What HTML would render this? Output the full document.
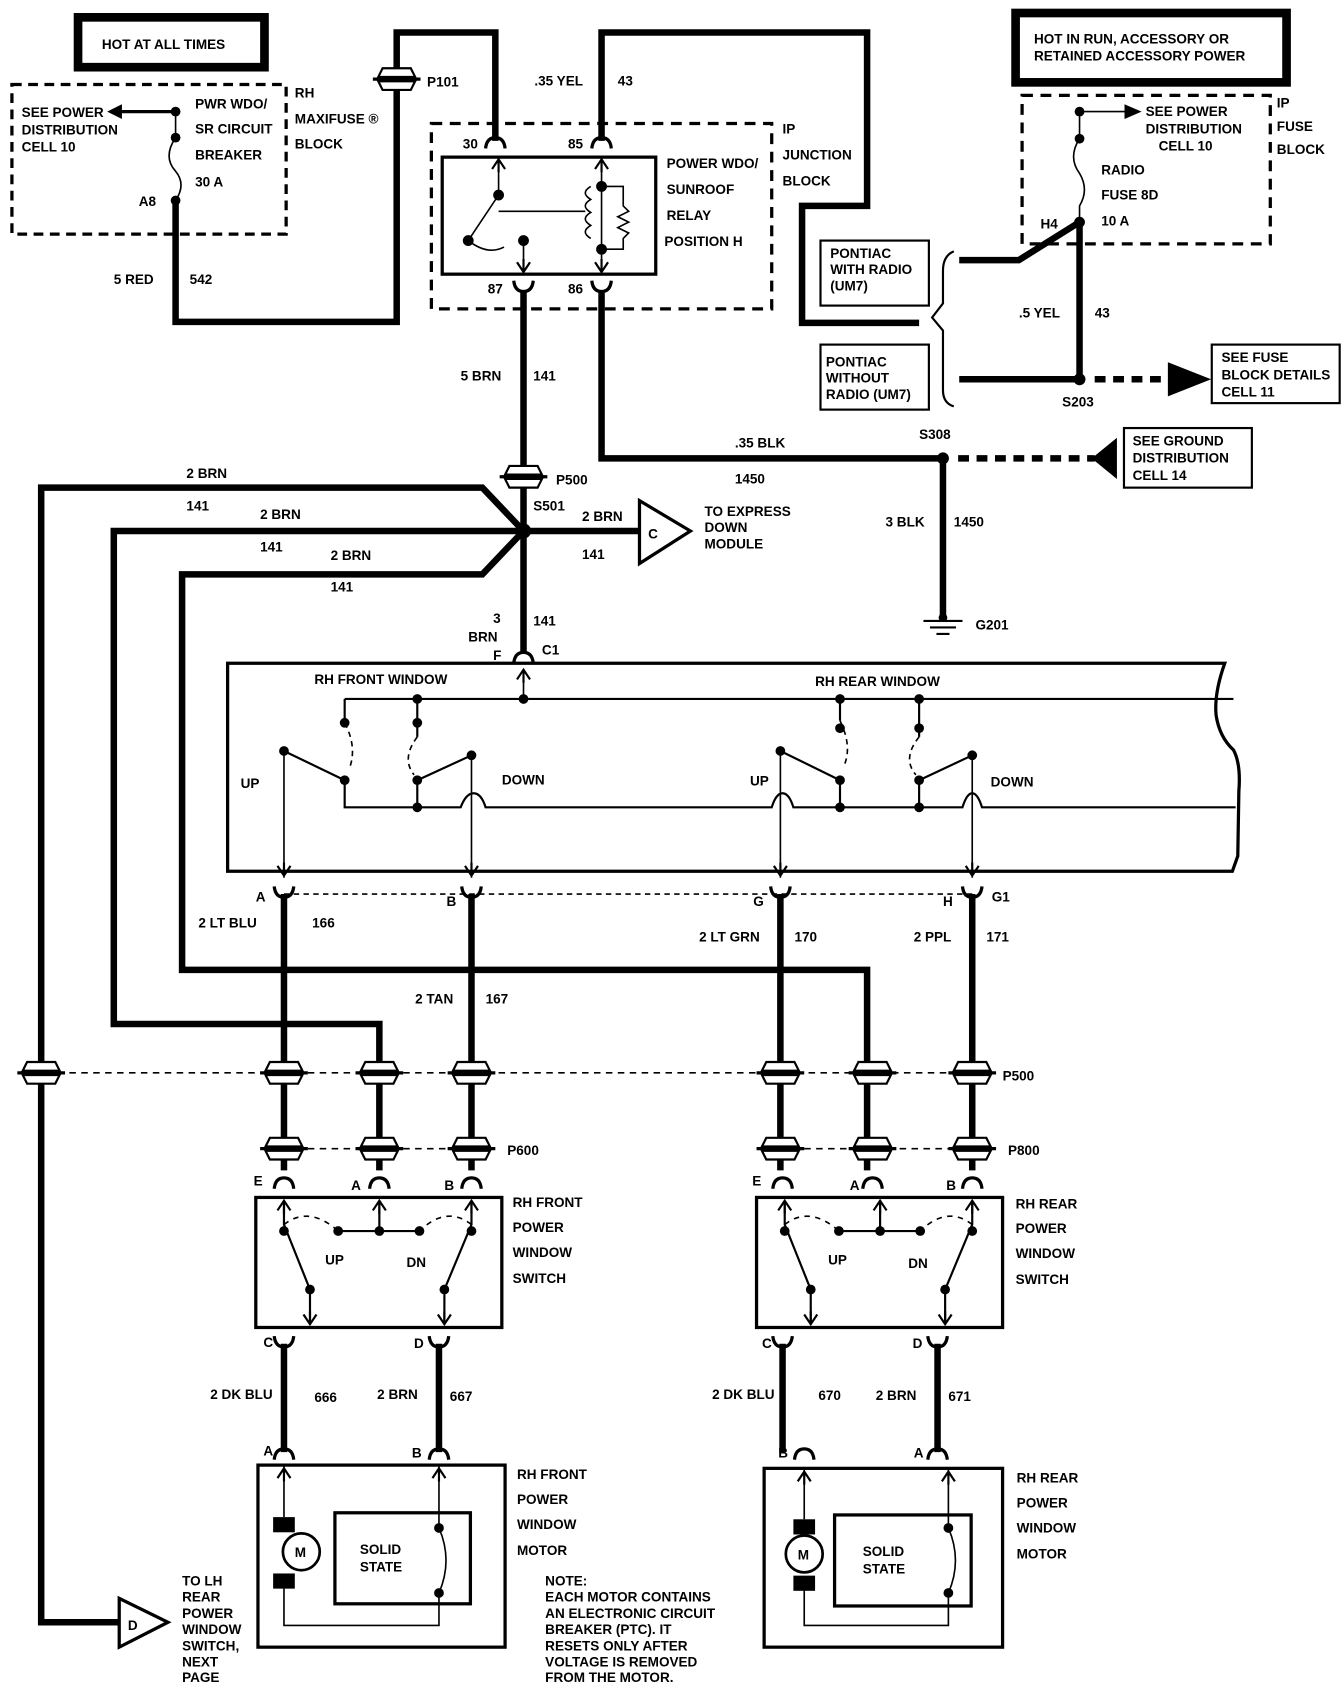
<!DOCTYPE html>
<html><head><meta charset="utf-8"><style>
html,body{margin:0;padding:0;background:#fff}
svg{display:block}
text{font-family:"Liberation Sans Narrow","Liberation Sans",sans-serif;font-weight:bold;font-size:12.5px;fill:#000}
</style></head><body>
<svg width="1344" height="1684" viewBox="0 0 1240 1554" preserveAspectRatio="none" xmlns="http://www.w3.org/2000/svg">
<defs>
<g id="conn"><path d="M-17,-2 L-13,-10 L13,-10 L17,-2 Z M-17,2 L-13,10 L13,10 L17,2 Z" fill="#fff" stroke="#000" stroke-width="2"/><line x1="-22" y1="0" x2="22" y2="0" stroke="#000" stroke-width="3"/></g>
<path id="cap" d="M-9,7 Q-8,-3 0,-3 Q8,-3 9,7" fill="none" stroke="#000" stroke-width="3"/>
<path id="cup" d="M-9,-7 Q-8,3 0,3 Q8,3 9,-7" fill="none" stroke="#000" stroke-width="3"/>
<path id="arU" d="M-6,9 L0,0 L6,9 M0,0 L0,12" fill="none" stroke="#000" stroke-width="2"/>
<path id="arD" d="M-6,-9 L0,0 L6,-9 M0,0 L0,-12" fill="none" stroke="#000" stroke-width="2"/>
</defs>
<g fill="none" stroke="#000">
<rect x="72" y="16" width="172" height="46" stroke-width="8"/>
<rect x="11" y="78" width="253" height="138" stroke-width="3" stroke-dasharray="9,6"/>
<path d="M162,103 L110,103" stroke-width="3"/><path d="M112,97 L100,103 L112,109Z" fill="#000"/>
<path d="M162,103 V127 M162,127 Q150,145 162,158 Q172,170 162,185" stroke-width="1.5"/>
<path d="M162,185 V297 H366 V30 H457 V130" stroke-width="6"/>
<path d="M555,130 V30 H800 V190 H740 V298 H848" stroke-width="6"/>
<rect x="398" y="114" width="314" height="171" stroke-width="3" stroke-dasharray="10,7"/>
<rect x="408" y="145" width="197" height="108" stroke-width="3"/>
<path d="M460,145 V180 L432,222 M432,222 Q450,236 465,228 M483,222 V253 M460,195 H540 M555,145 V230 V253 M555,172 H575 V190 L580,195 L570,200 L580,205 L570,210 L580,215 L575,220 V230 H555" stroke-width="1.5"/>
<path d="M545,172 Q535,178 545,184 Q535,190 545,196 Q535,202 545,208 Q535,214 545,220" stroke-width="1.5"/>
<path d="M483,268 V490 M555,268 V423 H870" stroke-width="6"/>
<rect x="937" y="12" width="250" height="64" stroke-width="8"/>
<rect x="943" y="88" width="229" height="137" stroke-width="3" stroke-dasharray="10,7"/>
<path d="M996,103 H1040 M996,103 V128 M996,128 Q985,145 996,160 Q1005,175 996,190 V205" stroke-width="1.5"/>
<path d="M1038,97 L1052,103 L1038,109Z" fill="#000"/>
<path d="M996,205 V350 M996,205 L940,240 H885 M885,350 H996" stroke-width="6"/>
<path d="M1010,350 H1080" stroke-width="6" stroke-dasharray="10,7"/>
<path d="M1078,335 L1116,350 L1078,365Z" fill="#000"/>
<rect x="1118" y="318" width="118" height="54" stroke-width="2"/>
<rect x="757" y="222" width="100" height="60" stroke-width="2"/>
<rect x="757" y="318" width="100" height="60" stroke-width="2"/>
<path d="M880,232 Q870,236 870,250 V280 L860,293 L870,305 V360 Q870,372 880,375" stroke-width="2"/>
<path d="M884,423 H1010" stroke-width="6" stroke-dasharray="10,7"/>
<path d="M1030,405 L1008,423 L1030,441Z" fill="#000"/>
<rect x="1037" y="395" width="118" height="55" stroke-width="2"/>
<path d="M870,423 V570" stroke-width="6"/>
<path d="M852,573 H888 M858,579 H882 M864,585 H876" stroke-width="2"/>
<path d="M483,490 H590 M483,490 V603" stroke-width="6"/>
<path d="M590,462 L637,490 L590,520Z" stroke-width="3" fill="#fff"/>
<path d="M483,490 L445,450 H38 V1497 H110" stroke-width="6"/>
<path d="M110,1475 L155,1497 L110,1520Z" stroke-width="3" fill="#fff"/>
<path d="M483,490 H105 V945 H350 V1080" stroke-width="6"/>
<path d="M483,490 L445,530 H168 V895 H800 V1080" stroke-width="6"/>
<path d="M210,612 H1130 Q1120,640 1122,660 Q1125,680 1138,692 Q1145,705 1143,730 L1142,790 L1137,804 H210 Z" stroke-width="3" fill="#fff"/>
<path d="M318,645 H1138 M318,645 V667 M385,645 V680 M775,645 V665 M848,645 V680" stroke-width="2"/>
<path d="M318,720 V745 H425 Q430,732 437,732 Q444,732 448,745 H712 Q716,732 722,732 Q728,732 732,745 H888 Q892,732 897,732 Q902,732 906,745 H1140" stroke-width="2"/>
<path d="M262,693 V810 M435,697 V810 M720,693 V810 M897,697 V810" stroke-width="1.5"/>
<path d="M262,693 L318,720 M435,697 L385,720 M385,720 V745 M720,693 L775,720 M775,720 V745 M897,697 L848,720 M848,720 V745" stroke-width="2"/>
<path d="M318,667 Q330,690 322,710 M385,680 Q370,700 382,715 M775,665 Q787,690 778,708 M848,680 Q832,700 845,715" stroke-width="1.5" stroke-dasharray="5,4"/>
<path d="M483,645 V618" stroke-width="1.5"/>
<path d="M262,825 H897" stroke-width="1.5" stroke-dasharray="5,4"/>
<path d="M262,825 V1080 M435,825 V1080 M720,825 V1080 M897,825 V1080" stroke-width="6"/>
<path d="M20,990 H920 M262,1060 H435 M720,1060 H897" stroke-width="1.5" stroke-dasharray="6,5"/>
<rect x="236" y="1105" width="227" height="120" stroke-width="3"/>
<rect x="698" y="1105" width="227" height="120" stroke-width="3"/>
<path d="M262,1108 V1130 L286,1190 V1222 M435,1108 V1130 L410,1190 V1222 M350,1108 V1136 M312,1136 H387" stroke-width="2"/>
<path d="M724,1108 V1130 L748,1190 V1222 M897,1108 V1130 L872,1190 V1222 M812,1108 V1136 M774,1136 H849" stroke-width="2"/>
<path d="M262,1130 Q285,1112 312,1136 M435,1130 Q412,1112 387,1136 M724,1130 Q747,1112 774,1136 M897,1130 Q874,1112 849,1136" stroke-width="1.5" stroke-dasharray="5,5"/>
<path d="M262,1240 V1340 M405,1240 V1340 M722,1240 V1340 M865,1240 V1340" stroke-width="6"/>
<rect x="238" y="1352" width="228" height="168" stroke-width="3"/>
<rect x="705" y="1355" width="220" height="165" stroke-width="3"/>
<rect x="309" y="1396" width="125" height="84" stroke-width="3"/>
<rect x="770" y="1398" width="126" height="84" stroke-width="3"/>
<path d="M262,1352 V1400 M262,1466 V1500 H405 V1470 Q418,1440 405,1410 V1352" stroke-width="1.5"/>
<path d="M742,1355 V1402 M742,1466 V1500 H875 V1470 Q888,1440 875,1410 V1355" stroke-width="1.5"/>
<circle cx="278" cy="1432" r="17" stroke-width="2.5" fill="#fff"/>
<circle cx="742" cy="1434" r="17" stroke-width="2.5" fill="#fff"/>
</g>
<g fill="#000">
<rect x="252" y="1400" width="20" height="14"/><rect x="252" y="1452" width="20" height="14"/>
<rect x="732" y="1402" width="20" height="14"/><rect x="732" y="1454" width="20" height="14"/>
<circle cx="162" cy="103" r="4.5"/><circle cx="162" cy="127" r="4.5"/><circle cx="162" cy="185" r="4.5"/>
<circle cx="996" cy="103" r="4.5"/><circle cx="996" cy="128" r="4.5"/><circle cx="996" cy="205" r="5"/>
<circle cx="996" cy="350" r="5.5"/><circle cx="870" cy="423" r="5.5"/><circle cx="483" cy="490" r="7"/><circle cx="870" cy="570" r="4"/>
<circle cx="460" cy="180" r="5"/><circle cx="432" cy="222" r="5"/><circle cx="483" cy="222" r="5"/><circle cx="555" cy="172" r="5"/><circle cx="555" cy="230" r="5"/>
<circle cx="385" cy="645" r="4.5"/><circle cx="483" cy="645" r="4.5"/><circle cx="775" cy="645" r="4.5"/><circle cx="848" cy="645" r="4.5"/>
<circle cx="318" cy="667" r="4.5"/><circle cx="385" cy="667" r="4.5"/><circle cx="775" cy="672" r="4.5"/><circle cx="848" cy="672" r="4.5"/>
<circle cx="262" cy="693" r="4.5"/><circle cx="435" cy="697" r="4.5"/><circle cx="720" cy="693" r="4.5"/><circle cx="897" cy="697" r="4.5"/>
<circle cx="318" cy="720" r="4.5"/><circle cx="385" cy="720" r="4.5"/><circle cx="775" cy="720" r="4.5"/><circle cx="848" cy="720" r="4.5"/>
<circle cx="385" cy="745" r="4.5"/><circle cx="775" cy="745" r="4.5"/><circle cx="848" cy="745" r="4.5"/>
<circle cx="262" cy="1136" r="4.5"/><circle cx="312" cy="1136" r="4.5"/><circle cx="350" cy="1136" r="4.5"/><circle cx="387" cy="1136" r="4.5"/><circle cx="435" cy="1136" r="4.5"/><circle cx="286" cy="1190" r="4.5"/><circle cx="410" cy="1190" r="4.5"/>
<circle cx="724" cy="1136" r="4.5"/><circle cx="774" cy="1136" r="4.5"/><circle cx="812" cy="1136" r="4.5"/><circle cx="849" cy="1136" r="4.5"/><circle cx="897" cy="1136" r="4.5"/><circle cx="748" cy="1190" r="4.5"/><circle cx="872" cy="1190" r="4.5"/>
<circle cx="405" cy="1410" r="4.5"/><circle cx="405" cy="1470" r="4.5"/><circle cx="875" cy="1410" r="4.5"/><circle cx="875" cy="1470" r="4.5"/>
</g>
<g>
<use href="#conn" x="366" y="73"/><use href="#conn" x="483" y="440"/>
<use href="#conn" x="38" y="990"/><use href="#conn" x="262" y="990"/><use href="#conn" x="350" y="990"/><use href="#conn" x="435" y="990"/><use href="#conn" x="720" y="990"/><use href="#conn" x="805" y="990"/><use href="#conn" x="897" y="990"/>
<use href="#conn" x="262" y="1060"/><use href="#conn" x="350" y="1060"/><use href="#conn" x="435" y="1060"/><use href="#conn" x="720" y="1060"/><use href="#conn" x="805" y="1060"/><use href="#conn" x="897" y="1060"/>
<use href="#cap" x="457" y="130"/><use href="#cap" x="555" y="130"/><use href="#cup" x="483" y="266"/><use href="#cup" x="555" y="266"/>
<use href="#cap" x="483" y="605"/>
<use href="#cup" x="262" y="825"/><use href="#cup" x="435" y="825"/><use href="#cup" x="720" y="825"/><use href="#cup" x="897" y="825"/>
<use href="#cap" x="262" y="1090"/><use href="#cap" x="350" y="1090"/><use href="#cap" x="435" y="1090"/><use href="#cap" x="722" y="1090"/><use href="#cap" x="805" y="1090"/><use href="#cap" x="897" y="1090"/>
<use href="#cup" x="262" y="1240"/><use href="#cup" x="405" y="1240"/><use href="#cup" x="722" y="1240"/><use href="#cup" x="865" y="1240"/>
<use href="#cap" x="262" y="1340"/><use href="#cap" x="405" y="1340"/><use href="#cap" x="742" y="1340"/><use href="#cap" x="865" y="1340"/>
<use href="#arU" x="460" y="147"/><use href="#arU" x="555" y="147"/><use href="#arD" x="483" y="251"/><use href="#arD" x="555" y="251"/>
<use href="#arU" x="483" y="618"/><use href="#arD" x="262" y="808"/><use href="#arD" x="435" y="808"/><use href="#arD" x="720" y="808"/><use href="#arD" x="897" y="808"/>
<use href="#arU" x="262" y="1108"/><use href="#arU" x="350" y="1108"/><use href="#arU" x="435" y="1108"/><use href="#arD" x="286" y="1222"/><use href="#arD" x="410" y="1222"/>
<use href="#arU" x="724" y="1108"/><use href="#arU" x="812" y="1108"/><use href="#arU" x="897" y="1108"/><use href="#arD" x="748" y="1222"/><use href="#arD" x="872" y="1222"/>
<use href="#arU" x="262" y="1355"/><use href="#arU" x="405" y="1355"/><use href="#arU" x="742" y="1358"/><use href="#arU" x="875" y="1358"/>
</g>
<g>
<text x="94" y="45">HOT AT ALL TIMES</text>
<text x="20" y="108">SEE POWER</text><text x="20" y="124">DISTRIBUTION</text><text x="20" y="140">CELL 10</text>
<text x="180" y="100">PWR WDO/</text><text x="180" y="123">SR CIRCUIT</text><text x="180" y="147">BREAKER</text><text x="180" y="172">30 A</text>
<text x="128" y="190">A8</text>
<text x="272" y="90">RH</text><text x="272" y="114">MAXIFUSE ®</text><text x="272" y="137">BLOCK</text>
<text x="394" y="80">P101</text><text x="105" y="262">5 RED</text><text x="175" y="262">542</text>
<text x="493" y="79">.35 YEL</text><text x="570" y="79">43</text>
<text x="427" y="137">30</text><text x="524" y="137">85</text><text x="450" y="271">87</text><text x="524" y="271">86</text>
<text x="615" y="155">POWER WDO/</text><text x="615" y="179">SUNROOF</text><text x="615" y="203">RELAY</text><text x="613" y="227">POSITION H</text>
<text x="722" y="123">IP</text><text x="722" y="147">JUNCTION</text><text x="722" y="171">BLOCK</text>
<text x="954" y="40">HOT IN RUN, ACCESSORY OR</text><text x="954" y="56">RETAINED ACCESSORY POWER</text>
<text x="1057" y="107">SEE POWER</text><text x="1057" y="123">DISTRIBUTION</text><text x="1069" y="139">CELL 10</text>
<text x="1016" y="161">RADIO</text><text x="1016" y="184">FUSE 8D</text><text x="1016" y="208">10 A</text><text x="960" y="211">H4</text>
<text x="1178" y="99">IP</text><text x="1178" y="121">FUSE</text><text x="1178" y="142">BLOCK</text>
<text x="766" y="238">PONTIAC</text><text x="766" y="253">WITH RADIO</text><text x="766" y="268">(UM7)</text>
<text x="762" y="338">PONTIAC</text><text x="762" y="353">WITHOUT</text><text x="762" y="368">RADIO (UM7)</text>
<text x="940" y="293">.5 YEL</text><text x="1010" y="293">43</text><text x="980" y="375">S203</text>
<text x="1127" y="334">SEE FUSE</text><text x="1127" y="350">BLOCK DETAILS</text><text x="1127" y="366">CELL 11</text>
<text x="1045" y="411">SEE GROUND</text><text x="1045" y="427">DISTRIBUTION</text><text x="1045" y="443">CELL 14</text>
<text x="848" y="405">S308</text><text x="678" y="413">.35 BLK</text><text x="678" y="446">1450</text>
<text x="817" y="486">3 BLK</text><text x="880" y="486">1450</text><text x="900" y="581">G201</text>
<text x="425" y="351">5 BRN</text><text x="492" y="351">141</text><text x="513" y="447">P500</text><text x="492" y="471">S501</text>
<text x="537" y="481">2 BRN</text><text x="537" y="516">141</text>
<text x="598" y="497" font-size="20">C</text>
<text x="650" y="476">TO EXPRESS</text><text x="650" y="491">DOWN</text><text x="650" y="506">MODULE</text>
<text x="172" y="441">2 BRN</text><text x="172" y="471">141</text><text x="240" y="479">2 BRN</text><text x="240" y="509">141</text><text x="305" y="517">2 BRN</text><text x="305" y="546">141</text>
<text x="455" y="575">3</text><text x="432" y="592">BRN</text><text x="492" y="577">141</text><text x="455" y="609">F</text><text x="500" y="604">C1</text>
<text x="290" y="631">RH FRONT WINDOW</text><text x="752" y="633">RH REAR WINDOW</text>
<text x="222" y="727">UP</text><text x="463" y="724">DOWN</text><text x="692" y="725">UP</text><text x="914" y="726">DOWN</text>
<text x="236" y="832">A</text><text x="412" y="836">B</text><text x="695" y="836">G</text><text x="870" y="836">H</text><text x="915" y="832">G1</text>
<text x="183" y="856">2 LT BLU</text><text x="288" y="856">166</text><text x="645" y="869">2 LT GRN</text><text x="733" y="869">170</text><text x="843" y="869">2 PPL</text><text x="910" y="869">171</text>
<text x="383" y="926">2 TAN</text><text x="448" y="926">167</text>
<text x="925" y="997">P500</text><text x="468" y="1066">P600</text><text x="930" y="1066">P800</text>
<text x="234" y="1094">E</text><text x="324" y="1098">A</text><text x="410" y="1098">B</text><text x="694" y="1094">E</text><text x="784" y="1098">A</text><text x="873" y="1098">B</text>
<text x="473" y="1114">RH FRONT</text><text x="473" y="1137">POWER</text><text x="473" y="1160">WINDOW</text><text x="473" y="1184">SWITCH</text>
<text x="937" y="1115">RH REAR</text><text x="937" y="1138">POWER</text><text x="937" y="1161">WINDOW</text><text x="937" y="1185">SWITCH</text>
<text x="300" y="1167">UP</text><text x="375" y="1169">DN</text><text x="764" y="1167">UP</text><text x="838" y="1170">DN</text>
<text x="243" y="1243">C</text><text x="382" y="1244">D</text><text x="703" y="1244">C</text><text x="842" y="1244">D</text>
<text x="194" y="1291">2 DK BLU</text><text x="290" y="1294">666</text><text x="348" y="1291">2 BRN</text><text x="415" y="1293">667</text>
<text x="657" y="1291">2 DK BLU</text><text x="755" y="1292">670</text><text x="808" y="1292">2 BRN</text><text x="875" y="1293">671</text>
<text x="243" y="1343">A</text><text x="380" y="1345">B</text><text x="718" y="1345">B</text><text x="843" y="1345">A</text>
<text x="477" y="1365">RH FRONT</text><text x="477" y="1388">POWER</text><text x="477" y="1411">WINDOW</text><text x="477" y="1435">MOTOR</text>
<text x="938" y="1368">RH REAR</text><text x="938" y="1391">POWER</text><text x="938" y="1414">WINDOW</text><text x="938" y="1438">MOTOR</text>
<text x="332" y="1434">SOLID</text><text x="332" y="1450">STATE</text><text x="796" y="1436">SOLID</text><text x="796" y="1452">STATE</text>
<text x="272" y="1437">M</text><text x="736" y="1439">M</text>
<g font-size="11.5"><text x="503" y="1463" font-size="11.5">NOTE:</text><text x="503" y="1478" font-size="11.5">EACH MOTOR CONTAINS</text><text x="503" y="1493" font-size="11.5">AN ELECTRONIC CIRCUIT</text><text x="503" y="1508" font-size="11.5">BREAKER (PTC).  IT</text><text x="503" y="1523" font-size="11.5">RESETS ONLY AFTER</text><text x="503" y="1538" font-size="11.5">VOLTAGE IS REMOVED</text><text x="503" y="1552" font-size="11.5">FROM THE MOTOR.</text></g>
<text x="118" y="1504" font-size="20">D</text>
<text x="168" y="1463" font-size="11.5">TO LH</text><text x="168" y="1478" font-size="11.5">REAR</text><text x="168" y="1493" font-size="11.5">POWER</text><text x="168" y="1508" font-size="11.5">WINDOW</text><text x="168" y="1523" font-size="11.5">SWITCH,</text><text x="168" y="1538" font-size="11.5">NEXT</text><text x="168" y="1552" font-size="11.5">PAGE</text>
</g>
</svg>
</body></html>
